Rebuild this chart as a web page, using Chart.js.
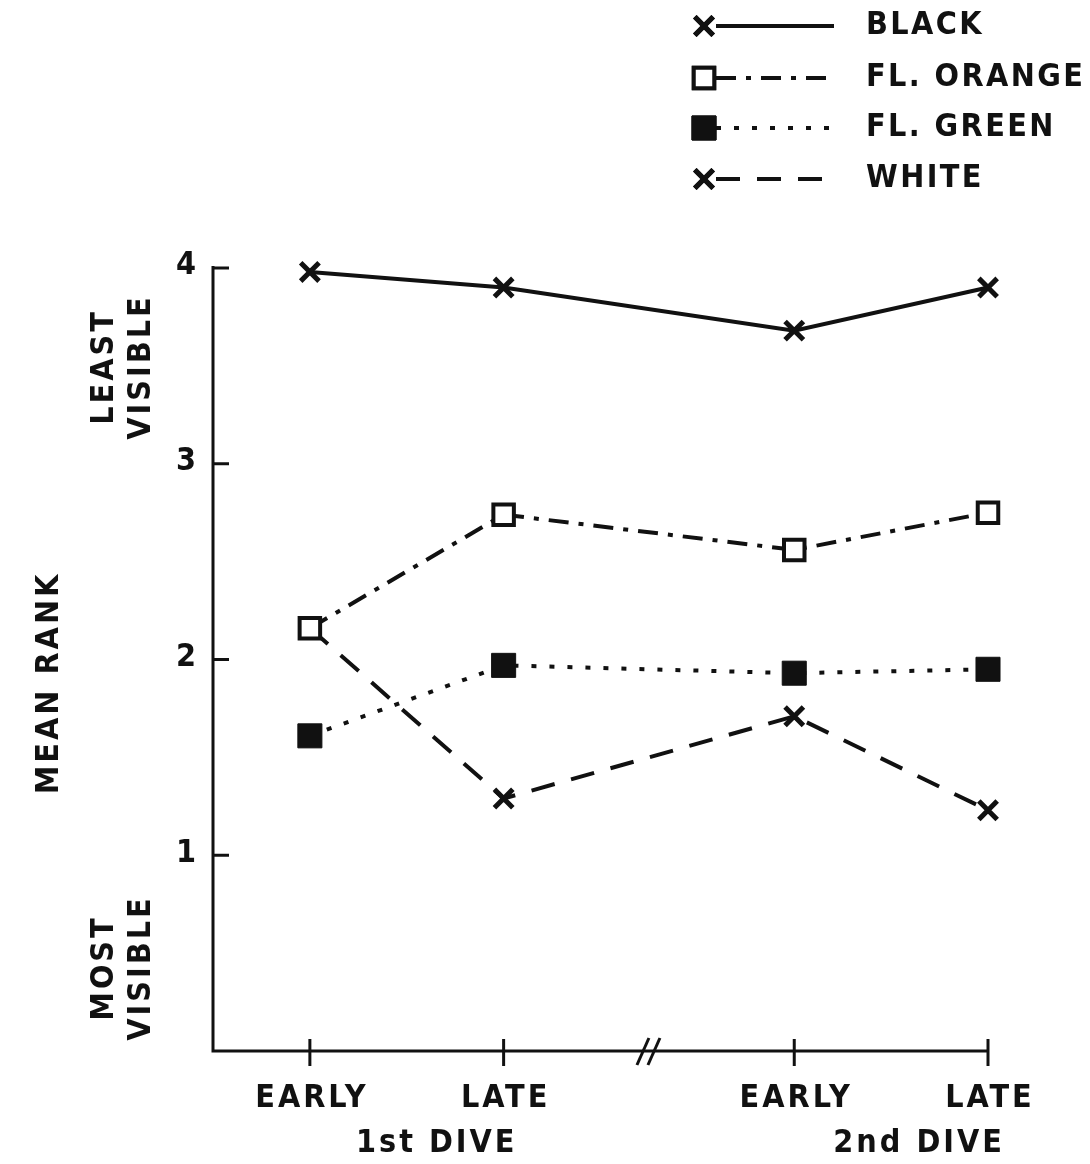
<!DOCTYPE html>
<html>
<head>
<meta charset="utf-8">
<script src="https://cdn.jsdelivr.net/npm/chart.js@4/dist/chart.umd.min.js"></script>
<style>
  html, body { margin: 0; padding: 0; background: #fff; }
  #wrap { width: 1090px; height: 1164px; position: relative; }
</style>
</head>
<body>
<div id="wrap"><canvas id="rankChart"></canvas></div>
<script>
// Time order of the observations (gap left for the axis break between dives)
const periods = ['EARLY', 'LATE', 'EARLY', 'LATE'];
const periodOrder = [1, 2, 3.5, 4.5];
const dives = ['1st DIVE', '2nd DIVE'];
const yTicks = [1, 2, 3, 4];

// Mean rank per colour
const black = [3.98, 3.90, 3.68, 3.90];
const flOrange = [2.16, 2.74, 2.56, 2.75];
const flGreen = [1.61, 1.97, 1.93, 1.95];
const white = [2.16, 1.29, 1.71, 1.23];

const INK = '#111';
const FONT = 'bold 32px "DejaVu Sans Condensed", "DejaVu Sans", sans-serif';

const toPoints = vals => vals.map((v, i) => ({ x: periodOrder[i], y: v }));

const series = [
  { label: 'BLACK', data: black, dash: [], point: 'crossRot', radius: 13, fill: INK, bw: 5 },
  { label: 'FL. ORANGE', data: flOrange, dash: [20, 10, 5, 10], point: 'rect', radius: 14.5, fill: '#fff', bw: 4 },
  { label: 'FL. GREEN', data: flGreen, dash: [5, 13], point: 'rect', radius: 17, fill: INK, bw: 1 },
  { label: 'WHITE', data: white, dash: [24, 17], point: 'crossRot', radius: 13, fill: INK, bw: 5 },
];

// draw a text string with spaced letters, optional rotation
function drawText(ctx, text, x, y, align, rot, spacing) {
  ctx.save();
  ctx.translate(x, y);
  if (rot) ctx.rotate(rot);
  ctx.font = FONT;
  ctx.letterSpacing = spacing || '3px';
  ctx.fillStyle = INK;
  ctx.textAlign = align || 'center';
  ctx.textBaseline = 'middle';
  ctx.fillText(text, 0, 0);
  ctx.restore();
}

const axesPlugin = {
  id: 'axesPlugin',
  beforeDatasetsDraw(chart) {
    const { ctx, chartArea, scales } = chart;
    const xs = scales.x, ys = scales.y;
    const left = chartArea.left, bottom = chartArea.bottom;
    ctx.save();
    ctx.strokeStyle = INK;
    ctx.lineWidth = 3;
    ctx.lineCap = 'butt';
    // axis lines
    ctx.beginPath();
    ctx.moveTo(left, ys.getPixelForValue(4) - 2);
    ctx.lineTo(left, bottom);
    ctx.lineTo(xs.getPixelForValue(periodOrder[periodOrder.length - 1]), bottom);
    ctx.stroke();
    // y ticks, pointing inward
    yTicks.forEach(t => {
      const py = ys.getPixelForValue(t);
      ctx.beginPath();
      ctx.moveTo(left, py);
      ctx.lineTo(left + 16, py);
      ctx.stroke();
      drawText(ctx, String(t), left - 14, py - 2, 'right');
    });
    // x ticks crossing the axis
    periodOrder.forEach((p, i) => {
      const px = xs.getPixelForValue(p);
      ctx.beginPath();
      ctx.moveTo(px, bottom - 12);
      ctx.lineTo(px, bottom + 15);
      ctx.stroke();
      drawText(ctx, periods[i], px + 2, bottom + 48, 'center');
    });
    // dive group labels
    drawText(ctx, dives[0], (xs.getPixelForValue(periodOrder[0]) + xs.getPixelForValue(periodOrder[1])) / 2 + 30, bottom + 93, 'center');
    drawText(ctx, dives[1], (xs.getPixelForValue(periodOrder[2]) + xs.getPixelForValue(periodOrder[3])) / 2 + 28, bottom + 93, 'center');
    // axis break mark
    const bx = xs.getPixelForValue((periodOrder[1] + periodOrder[2]) / 2);
    ctx.lineWidth = 3;
    [-6, 5].forEach(off => {
      ctx.beginPath();
      ctx.moveTo(bx + off - 6, bottom + 14);
      ctx.lineTo(bx + off + 6, bottom - 13);
      ctx.stroke();
    });
    // y axis titles
    const rot = -Math.PI / 2;
    drawText(ctx, 'MEAN RANK', 50, 683, 'center', rot);
    drawText(ctx, 'LEAST', 105, 367, 'center', rot);
    drawText(ctx, 'VISIBLE', 142, 367, 'center', rot);
    drawText(ctx, 'MOST', 105, 968, 'center', rot);
    drawText(ctx, 'VISIBLE', 142, 968, 'center', rot);
    ctx.restore();
  },
  afterDraw(chart) {
    const { ctx } = chart;
    const rows = [26, 78, 128, 179];
    ctx.save();
    series.forEach((s, i) => {
      const y = rows[i];
      // line sample
      ctx.strokeStyle = INK;
      ctx.lineWidth = 4;
      ctx.setLineDash(s.dash);
      ctx.beginPath();
      ctx.moveTo(716, y);
      ctx.lineTo(834, y);
      ctx.stroke();
      ctx.setLineDash([]);
      // marker sample
      ctx.lineWidth = s.bw;
      ctx.fillStyle = s.fill;
      Chart.helpers.drawPoint(ctx, { pointStyle: s.point, radius: s.radius, borderWidth: s.bw, rotation: 0 }, 704, y);
      if (s.point === 'rect') ctx.fill();
      ctx.stroke();
      drawText(ctx, s.label, 866, y, 'left', 0, '2.4px');
    });
    ctx.restore();
  }
};

new Chart(document.getElementById('rankChart'), {
  type: 'line',
  data: {
    datasets: series.map(s => ({
      label: s.label,
      data: toPoints(s.data),
      borderColor: INK,
      borderWidth: 4,
      borderDash: s.dash,
      pointStyle: s.point,
      pointRadius: s.radius,
      pointBorderWidth: s.bw,
      pointBackgroundColor: s.fill,
      pointBorderColor: INK,
      tension: 0,
      clip: false,
    }))
  },
  options: {
    responsive: true,
    maintainAspectRatio: false,
    animation: false,
    layout: { padding: { left: 213, right: 102, top: 268, bottom: 113 } },
    plugins: { legend: { display: false }, tooltip: { enabled: false } },
    scales: {
      x: { type: 'linear', min: 0.5, max: 4.5, display: false },
      y: { min: 0, max: 4, display: false },
    },
  },
  plugins: [axesPlugin],
});
</script>
</body>
</html>
